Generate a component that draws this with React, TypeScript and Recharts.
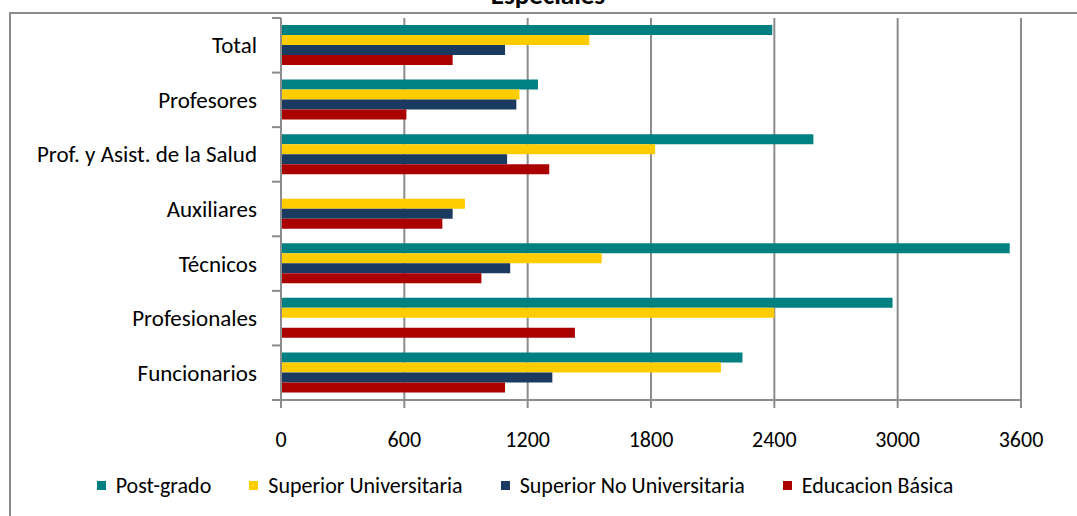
import React from 'react';
import { BarChart, Bar, XAxis, YAxis, CartesianGrid, Legend } from 'recharts';

const categories = [
  'Total',
  'Profesores',
  'Prof. y Asist. de la Salud',
  'Auxiliares',
  'Técnicos',
  'Profesionales',
  'Funcionarios',
];
const postGrado = [2390, 1250, 2590, null, 3545, 2975, 2245];
const superiorUniv = [1500, 1160, 1820, 895, 1560, 2400, 2140];
const superiorNoUniv = [1090, 1145, 1100, 835, 1115, null, 1320];
const educacionBasica = [835, 610, 1305, 785, 975, 1430, 1090];
const xTicks = [0, 600, 1200, 1800, 2400, 3000, 3600];

const series = [
  { key: 'postGrado', name: 'Post-grado', color: '#008080' },
  { key: 'superiorUniv', name: 'Superior Universitaria', color: '#FFCC00' },
  { key: 'superiorNoUniv', name: 'Superior No Universitaria', color: '#1B3A60' },
  { key: 'educacionBasica', name: 'Educacion Básica', color: '#AA0000' },
];

const data = categories.map((c, i) => ({
  category: c,
  postGrado: postGrado[i],
  superiorUniv: superiorUniv[i],
  superiorNoUniv: superiorNoUniv[i],
  educacionBasica: educacionBasica[i],
}));

const FONT = 'Carlito, Lato, sans-serif';
const GRID = '#8c8c8c';
const TOP = 18;
const PLOT_H = 382;
const BAND = PLOT_H / categories.length;

const CategoryTick = (props: any) => {
  const { x, y, payload, index } = props;
  const last = index === categories.length - 1;
  return (
    <g>
      <text x={x} y={y} dy="0.35em" textAnchor="end" fill="#000" fontSize={23} fontFamily={FONT}>
        {payload.value}
      </text>
      <line x1={x + 15} x2={x + 24} y1={y - BAND / 2} y2={y - BAND / 2} stroke={GRID} strokeWidth={2} />
      {last && (
        <line x1={x + 15} x2={x + 24} y1={y + BAND / 2} y2={y + BAND / 2} stroke={GRID} strokeWidth={2} />
      )}
    </g>
  );
};

const LegendContent = () => (
  <div style={{ display: 'flex', justifyContent: 'center', gap: 38, fontFamily: FONT, fontSize: 22 }}>
    {series.map((s) => (
      <div key={s.key} style={{ display: 'flex', alignItems: 'center' }}>
        <span style={{ width: 9, height: 9, background: s.color, marginRight: 10, display: 'inline-block' }} />
        <span>{s.name}</span>
      </div>
    ))}
  </div>
);

export default function App() {
  return (
    <div style={{ position: 'absolute', left: 0, top: 0, width: 1077, height: 516, overflow: 'hidden', background: '#fff' }}>
      <div
        style={{
          position: 'absolute',
          left: 9,
          top: 12,
          width: 1100,
          height: 540,
          border: `2px solid ${GRID}`,
          boxSizing: 'border-box',
        }}
      />
      <div
        style={{
          position: 'absolute',
          left: 0,
          top: -20,
          width: 1096,
          textAlign: 'center',
          fontFamily: FONT,
          fontWeight: 'bold',
          fontSize: 27,
          lineHeight: '30px',
        }}
      >
        Especiales
      </div>
      <div style={{ position: 'absolute', left: 0, top: 0 }}>
        <BarChart
          width={1077}
          height={516}
          data={data}
          layout="vertical"
          margin={{ top: TOP, right: 56, bottom: 56, left: 10 }}
          barGap={0}
          barSize={10}
        >
          <CartesianGrid horizontal={false} stroke={GRID} strokeWidth={2} />
          <XAxis
            type="number"
            domain={[0, 3600]}
            ticks={xTicks}
            interval={0}
            height={60}
            axisLine={{ stroke: GRID, strokeWidth: 2 }}
            tickLine={{ stroke: GRID, strokeWidth: 2 }}
            tickSize={8}
            tickMargin={23}
            tick={{ fill: '#000', fontSize: 22, fontFamily: FONT }}
          />
          <YAxis
            type="category"
            dataKey="category"
            width={271}
            interval={0}
            axisLine={{ stroke: GRID, strokeWidth: 2 }}
            tickLine={false}
            tickSize={9}
            tickMargin={15}
            tick={<CategoryTick />}
          />
          <Legend
            verticalAlign="middle"
            align="center"
            layout="horizontal"
            wrapperStyle={{ top: 472, left: 0, width: 1050 }}
            content={<LegendContent />}
          />
          {series.map((s) => (
            <Bar key={s.key} dataKey={s.key} name={s.name} fill={s.color} isAnimationActive={false} />
          ))}
        </BarChart>
      </div>
    </div>
  );
}
